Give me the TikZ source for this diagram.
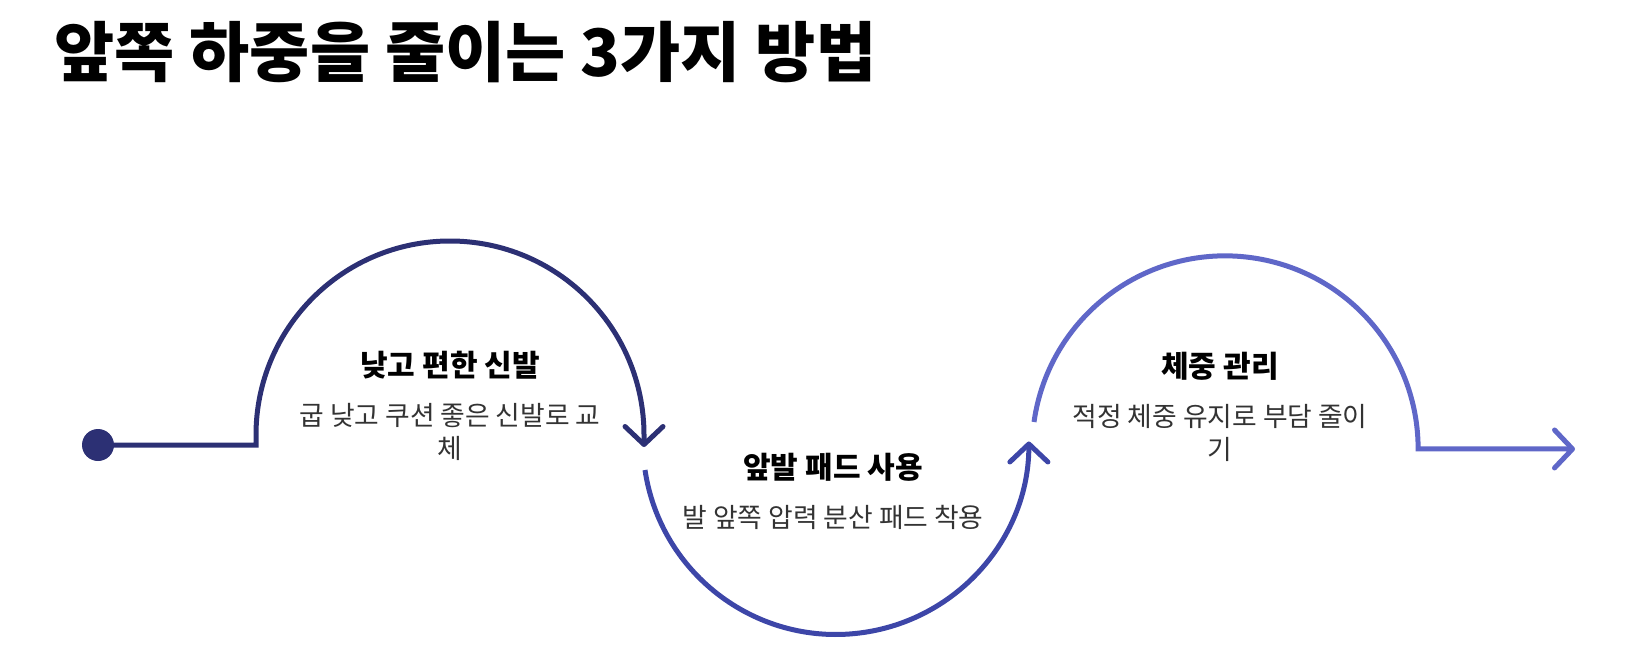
\documentclass[tikz,border=0pt]{standalone}
\usepackage{fontspec}
\setmainfont{Noto Sans CJK KR}
\usetikzlibrary{positioning, arrows.meta}
\definecolor{navy}{RGB}{44,48,116}
\definecolor{indigo}{RGB}{61,70,168}
\definecolor{lavender}{RGB}{95,103,200}
\definecolor{bodygray}{RGB}{51,51,51}

\begin{document}
\begin{tikzpicture}[x=0.5pt, y=-0.5pt, line width=2.5pt, node distance=9.5pt,
      >={Straight Barb[length=9pt, width=19pt, round]},
      head/.style={font=\bfseries\fontsize{15}{18}\selectfont, inner sep=0pt},
      body/.style={font=\fontsize{13.4}{16.5}\selectfont, text=bodygray, align=center, inner sep=0pt}]

      \useasboundingbox (0,0) rectangle (1647,664);

      \node[anchor=west, inner sep=0pt, font=\bfseries\fontsize{32.7}{40}\selectfont] (title) at (52,52) {앞쪽 하중을 줄이는 3가지 방법};

      \node[head] (shoe) at (450,365) {낮고 편한 신발};
      \node[body] (shoe text) [below=of shoe] {굽 낮고 쿠션 좋은 신발로 교\\체};
      \node[head] (pad) at (833,467) {앞발 패드 사용};
      \node[body] (pad text) [below=of pad] {발 앞쪽 압력 분산 패드 착용};
      \node[head] (weight) at (1220,366) {체중 관리};
      \node[body] (weight text) [below=of weight] {적정 체중 유지로 부담 줄이\\기};

      \node[circle, fill=navy, minimum size=16pt, inner sep=0pt] (start) at (98,445) {};
      \coordinate (corner1) at (256,445);
      \coordinate (tip1) at (644,447);
      \coordinate (from2) at (645,470);
      \coordinate (from3) at (1034,422);
      \coordinate (tip3) at (1575,449);

      \draw[navy, ->] (start.center) -- (corner1) -- ++(0,-10) arc[start angle=180, end angle=360, radius=194] -- (tip1);
      \draw[indigo, ->] (from2) arc[start angle=171.5, end angle=0, radius=193];
      \draw[lavender, ->] (from3) arc[start angle=188, end angle=360, radius=193] -- (tip3);
    \end{tikzpicture}
\end{document}
